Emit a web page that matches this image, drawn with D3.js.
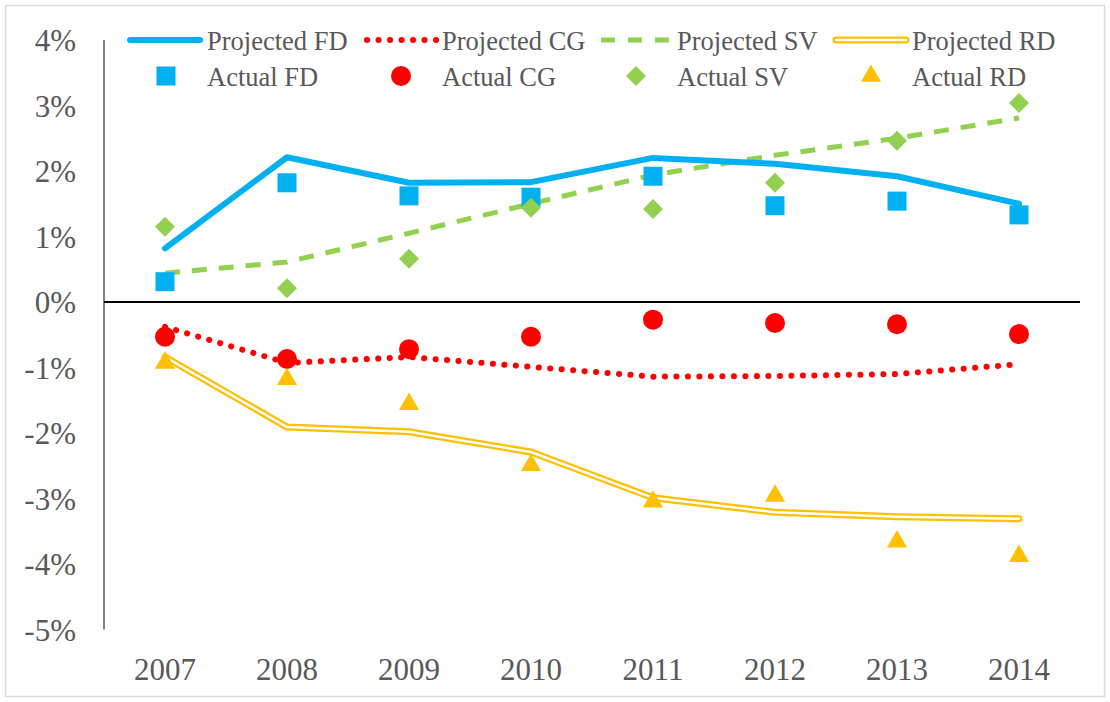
<!DOCTYPE html>
<html lang="en">
<head>
<meta charset="utf-8">
<script src="https://d3js.org/d3.v7.min.js"></script>
<style>
	body { margin: 0; background: #fff; }
	svg text { font-family: "Liberation Serif", "Times New Roman", serif; fill: #595959; }
	.axis text { font-size: 31px; }
	.legend text { font-size: 26.5px; }
</style>
<title>Projected vs Actual</title>
</head>
<body>
<svg id="chart" width="1110" height="702"></svg>
<script>
	var years = ["2007", "2008", "2009", "2010", "2011", "2012", "2013", "2014"];
	var yTicks = [4, 3, 2, 1, 0, -1, -2, -3, -4, -5];

	// values in percent
	var projFD = [0.82, 2.21, 1.82, 1.83, 2.20, 2.11, 1.92, 1.50];
	var actFD  = [0.31, 1.82, 1.62, 1.60, 1.92, 1.47, 1.54, 1.33];
	var projCG = [-0.38, -0.93, -0.84, -0.99, -1.14, -1.13, -1.10, -0.95];
	var actCG  = [-0.53, -0.87, -0.72, -0.53, -0.27, -0.32, -0.34, -0.49];
	var projSV = [0.44, 0.61, 1.05, 1.50, 1.94, 2.24, 2.50, 2.81];
	var actSV  = [1.15, 0.21, 0.66, 1.44, 1.42, 1.82, 2.46, 3.04];
	var projRD = [-0.84, -1.91, -1.98, -2.29, -2.99, -3.21, -3.28, -3.31];
	var actRD  = [-0.93, -1.18, -1.56, -2.49, -3.05, -2.96, -3.66, -3.88];

	var svg = d3.select("#chart");

	// outer frame
	svg.append("rect")
		.attr("x", 5.5).attr("y", 5.5)
		.attr("width", 1099).attr("height", 691)
		.attr("fill", "none").attr("stroke", "#d9d9d9").attr("stroke-width", 1.5);

	var x = d3.scaleBand().domain(years).range([104, 1080]);
	var y = d3.scaleLinear().domain([-5, 4]).range([629.5, 40]);
	function cx(d, i) { return x(years[i]) + x.bandwidth() / 2; }

	// y axis labels
	var yAxis = svg.append("g").attr("class", "axis")
		.attr("transform", "translate(104,0)")
		.call(d3.axisLeft(y).tickValues(yTicks).tickSize(0).tickPadding(28)
			.tickFormat(function(d) { return d + "%"; }));
	yAxis.select(".domain").remove();
	yAxis.selectAll("text").attr("fill", "#595959").attr("dy", "0.34em");

	svg.append("line")
		.attr("x1", 104).attr("x2", 104)
		.attr("y1", y(4)).attr("y2", y(-5))
		.attr("stroke", "#595959").attr("stroke-width", 1.5);

	// x axis labels
	var xAxis = svg.append("g").attr("class", "axis")
		.attr("transform", "translate(0,629.5)")
		.call(d3.axisBottom(x).tickSize(0).tickPadding(28));
	xAxis.select(".domain").remove();
	xAxis.selectAll("text").attr("fill", "#595959");

	// zero line
	svg.append("line")
		.attr("x1", 104).attr("x2", 1080)
		.attr("y1", y(0)).attr("y2", y(0))
		.attr("stroke", "#000").attr("stroke-width", 2);

	var line = d3.line()
		.x(function(d, i) { return cx(d, i); })
		.y(function(d) { return y(d); });

	// projected lines
	svg.append("path").attr("d", line(projRD))
		.attr("fill", "none").attr("stroke", "#FFC000").attr("stroke-width", 7)
		.attr("stroke-linejoin", "round").attr("stroke-linecap", "round");
	svg.append("path").attr("d", line(projRD))
		.attr("fill", "none").attr("stroke", "#fff").attr("stroke-width", 2.5)
		.attr("stroke-linejoin", "round").attr("stroke-linecap", "round");

	svg.append("path").attr("d", line(projSV))
		.attr("fill", "none").attr("stroke", "#92D050").attr("stroke-width", 5)
		.attr("stroke-dasharray", "15,12");

	svg.append("path").attr("d", line(projCG))
		.attr("fill", "none").attr("stroke", "#FF0000").attr("stroke-width", 6)
		.attr("stroke-linecap", "round").attr("stroke-dasharray", "0.1,11.4");

	svg.append("path").attr("d", line(projFD))
		.attr("fill", "none").attr("stroke", "#00B0F0").attr("stroke-width", 6)
		.attr("stroke-linejoin", "round").attr("stroke-linecap", "round");

	// actual markers
	var sq = d3.symbol().type(d3.symbolSquare).size(361);
	var circ = d3.symbol().type(d3.symbolCircle).size(314);
	var dia = d3.symbol().type(d3.symbolSquare).size(200);
	var tri = d3.symbol().type(d3.symbolTriangle).size(175);

	function markers(data, sym, color, rot) {
		svg.append("g").selectAll("path")
			.data(data).enter().append("path")
			.attr("d", sym)
			.attr("fill", color)
			.attr("transform", function(d, i) {
				return "translate(" + cx(d, i) + "," + y(d) + ")" + (rot ? " rotate(45)" : "");
			});
	}
	markers(actFD, sq, "#00B0F0");
	markers(actCG, circ, "#FF0000");
	markers(actSV, dia, "#92D050", true);
	markers(actRD, tri, "#FFC000");

	// legend
	var legend = svg.append("g").attr("class", "legend");
	var legX = [130, 365, 600, 835];
	var row1 = 40, row2 = 76;
	var names = ["FD", "CG", "SV", "RD"];

	function legLine(x0) { return "M" + x0 + "," + row1 + "H" + (x0 + 70); }
	legend.append("path").attr("d", legLine(legX[0]))
		.attr("stroke", "#00B0F0").attr("stroke-width", 6).attr("stroke-linecap", "round");
	legend.append("path").attr("d", legLine(legX[1] + 2))
		.attr("stroke", "#FF0000").attr("stroke-width", 6).attr("stroke-linecap", "round")
		.attr("stroke-dasharray", "0.1,11.4");
	legend.append("path").attr("d", legLine(legX[2] + 1))
		.attr("stroke", "#92D050").attr("stroke-width", 5).attr("stroke-dasharray", "14,13");
	legend.append("path").attr("d", legLine(legX[3] + 1))
		.attr("stroke", "#FFC000").attr("stroke-width", 7).attr("stroke-linecap", "round");
	legend.append("path").attr("d", legLine(legX[3] + 1))
		.attr("stroke", "#fff").attr("stroke-width", 2.5).attr("stroke-linecap", "round");

	var syms = [sq, circ, dia, tri];
	var cols = ["#00B0F0", "#FF0000", "#92D050", "#FFC000"];
	legX.forEach(function(x0, i) {
		legend.append("path").attr("d", syms[i]).attr("fill", cols[i])
			.attr("transform", "translate(" + (x0 + 36) + "," + row2 + ")" + (i == 2 ? " rotate(45)" : ""));
		legend.append("text").attr("x", x0 + 77).attr("y", row1 + 10).text("Projected " + names[i]);
		legend.append("text").attr("x", x0 + 77).attr("y", row2 + 10).text("Actual " + names[i]);
	});
</script>
</body>
</html>
